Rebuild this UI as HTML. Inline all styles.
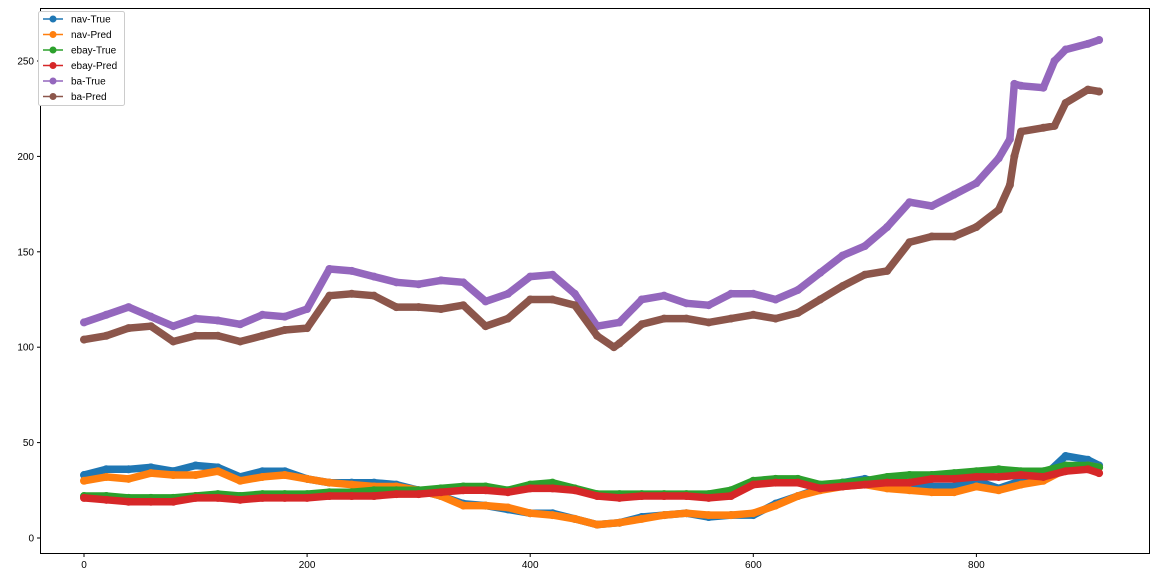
<!DOCTYPE html>
<html><head><meta charset="utf-8"><style>
body{margin:0;background:#fff;font-family:"Liberation Sans",sans-serif}
svg text{font-family:"Liberation Sans",sans-serif;font-size:10px;fill:#000}
</style></head><body>
<svg id="chart" width="1156" height="575" viewBox="0 0 1156 575" xmlns="http://www.w3.org/2000/svg">
<rect x="0" y="0" width="1156" height="575" fill="#fff"/>
<g id="series"></g>
<rect x="40.5" y="8.5" width="1109" height="545" fill="none" stroke="#000" stroke-width="1"/>
<g id="axes"></g>
<g id="legend"></g>
</svg>
<script>
const xIdx=[0,20,40,60,80,100,120,140,160,180,200,220,240,260,280,300,320,340,360,380,400,420,440,460,480,500,520,540,560,580,600,620,640,660,680,700,720,740,760,780,800,820,840,860,880,900,910];
const navTrue=[33,36,36,37,35,38,37,32,35,35,31,29,29,29,28,25,22,18,17,15,13,13,10,7,8,11,12,13,11,12,12,18,22,26,29,31,28,27,27,27,30,26,30,32,43,41,38];
const navPred=[30,32,31,34,33,33,35,30,32,33,31,29,28,27,27,25,22,17,17,16,13,12,10,7,8,10,12,13,12,12,13,17,22,25,27,28,26,25,24,24,27,25,28,30,36,38,37];
const ebayTrue=[22,22,21,21,21,22,23,22,23,23,23,24,24,25,25,25,26,27,27,25,28,29,26,23,23,23,23,23,23,25,30,31,31,28,29,30,32,33,33,34,35,36,35,35,38,38,37];
const ebayPred=[21,20,19,19,19,21,21,20,21,21,21,22,22,22,23,23,24,25,25,24,26,26,25,22,21,22,22,22,21,22,28,29,29,26,27,28,29,29,31,31,32,32,33,32,35,36,34];
const baX=[0,20,40,60,80,100,120,140,160,180,200,220,240,260,280,300,320,340,360,380,400,420,440,460,480,500,520,540,560,580,600,620,640,660,680,700,720,740,760,780,800,820,830,834,840,860,870,880,900,910];
const baTrue=[113,117,121,116,111,115,114,112,117,116,120,141,140,137,134,133,135,134,124,128,137,138,128,111,113,125,127,123,122,128,128,125,130,139,148,153,163,176,174,180,186,199,209,238,237,236,250,256,259,261];
const baPredX=[0,20,40,60,80,100,120,140,160,180,200,220,240,260,280,300,320,340,360,380,400,420,440,460,475,480,500,520,540,560,580,600,620,640,660,680,700,720,740,760,780,800,820,830,834,840,860,870,880,900,910];
const baPred=[104,106,110,111,103,106,106,103,106,109,110,127,128,127,121,121,120,122,111,115,125,125,122,106,100,102,112,115,115,113,115,117,115,118,125,132,138,140,155,158,158,163,172,185,200,213,215,216,228,235,234];
const xTicks=[0,200,400,600,800];
const yTicks=[0,50,100,150,200,250];

function sx(v){return 84+v*1.1155;}
function sy(v){return 538-v*1.908;}
const NS="http://www.w3.org/2000/svg";
const seriesG=document.getElementById('series');
const defs=[
 ['nav-True',xIdx,navTrue,'#1f77b4'],
 ['nav-Pred',xIdx,navPred,'#ff7f0e'],
 ['ebay-True',xIdx,ebayTrue,'#2ca02c'],
 ['ebay-Pred',xIdx,ebayPred,'#d62728'],
 ['ba-True',baX,baTrue,'#9467bd'],
 ['ba-Pred',baPredX,baPred,'#8c564b']
];
defs.forEach(d=>{
  const g=document.createElementNS(NS,'g');
  
  
  const pts=d[1].map((x,i)=>sx(x).toFixed(1)+','+sy(d[2][i]).toFixed(1)).join(' ');
  const band=document.createElementNS(NS,'polyline');
  band.setAttribute('points',pts);band.setAttribute('fill','none');
  band.setAttribute('stroke',d[3]);band.setAttribute('stroke-width','7.5');
  band.setAttribute('stroke-linejoin','round');band.setAttribute('stroke-linecap','round');
  
  
  g.appendChild(band);
  d[1].forEach((x,i)=>{
    const c=document.createElementNS(NS,'circle');
    c.setAttribute('cx',sx(x));c.setAttribute('cy',sy(d[2][i]));c.setAttribute('r','4');
    c.setAttribute('fill',d[3]);
    
    
    g.appendChild(c);
  });
  seriesG.appendChild(g);
});
const axes=document.getElementById('axes');
xTicks.forEach(t=>{
  const l=document.createElementNS(NS,'line');
  l.setAttribute('x1',sx(t));l.setAttribute('x2',sx(t));l.setAttribute('y1',553.5);l.setAttribute('y2',557);
  l.setAttribute('stroke','#000');
  
  
  axes.appendChild(l);
  const tx=document.createElementNS(NS,'text');
  tx.setAttribute('x',sx(t));tx.setAttribute('y',568);tx.setAttribute('text-anchor','middle');
  tx.textContent=t;
  
  
  axes.appendChild(tx);
});
yTicks.forEach(t=>{
  const l=document.createElementNS(NS,'line');
  l.setAttribute('x1',37);l.setAttribute('x2',40.5);l.setAttribute('y1',sy(t));l.setAttribute('y2',sy(t));
  l.setAttribute('stroke','#000');
  
  
  axes.appendChild(l);
  const tx=document.createElementNS(NS,'text');
  tx.setAttribute('x',34);tx.setAttribute('y',sy(t)+3.5);tx.setAttribute('text-anchor','end');
  tx.textContent=t;
  
  
  axes.appendChild(tx);
});
const leg=document.getElementById('legend');
const box=document.createElementNS(NS,'rect');
box.setAttribute('x',38.5);box.setAttribute('y',11.5);box.setAttribute('width',86);box.setAttribute('height',94);
box.setAttribute('rx',2);box.setAttribute('fill','#fff');box.setAttribute('stroke','#ccc');


leg.appendChild(box);
defs.forEach((d,i)=>{
  const y=19+i*15.5;
  const l=document.createElementNS(NS,'line');
  l.setAttribute('x1',43);l.setAttribute('x2',63);l.setAttribute('y1',y);l.setAttribute('y2',y);
  l.setAttribute('stroke',d[3]);l.setAttribute('stroke-width',1.5);
  
  
  leg.appendChild(l);
  const c=document.createElementNS(NS,'circle');
  c.setAttribute('cx',53);c.setAttribute('cy',y);c.setAttribute('r',3.5);c.setAttribute('fill',d[3]);
  
  
  leg.appendChild(c);
  const t=document.createElementNS(NS,'text');
  t.setAttribute('x',71);t.setAttribute('y',y+3.5);t.textContent=d[0];
  
  
  leg.appendChild(t);
});
</script>
</body></html>
